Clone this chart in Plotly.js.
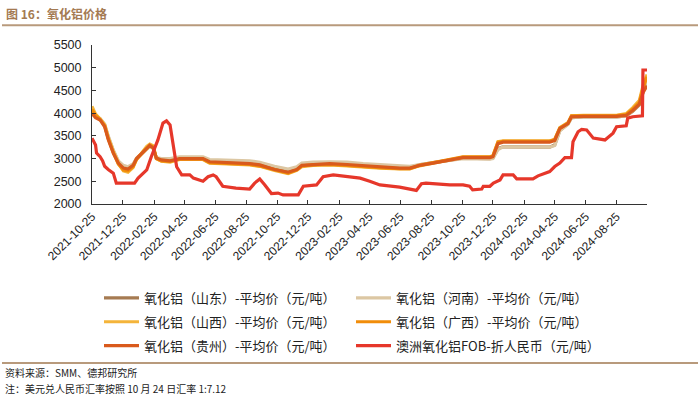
<!DOCTYPE html>
<html><head><meta charset="utf-8">
<script src="https://cdn.plot.ly/plotly-3.0.1.min.js"></script>
<style>html,body{margin:0;padding:0;background:#fff}</style>
</head><body><div id="chart" style="width:700px;height:398px"></div>
<script>
// ---------- data ----------
const groupDates = ["2021-10-25","2021-11-01","2021-11-10","2021-11-19","2021-11-26","2021-12-06","2021-12-16","2021-12-26","2022-01-04","2022-01-14","2022-01-21","2022-01-31","2022-02-10","2022-02-16","2022-02-23","2022-03-01","2022-03-11","2022-03-28","2022-04-16","2022-06-01","2022-06-14","2022-09-01","2022-09-21","2022-10-20","2022-11-16","2022-12-03","2022-12-13","2023-01-04","2023-02-06","2023-03-12","2023-04-13","2023-05-16","2023-06-24","2023-07-14","2023-08-02","2023-08-29","2023-10-01","2023-10-27","2023-12-19","2023-12-25","2024-01-04","2024-01-14","2024-04-15","2024-04-25","2024-05-05","2024-05-21","2024-05-28","2024-06-20","2024-08-25","2024-09-13","2024-09-26","2024-10-09","2024-10-16","2024-10-24"];
const shandong = [4050,3930,3870,3740,3480,3170,2930,2820,2800,2860,3000,3100,3220,3280,3220,3010,2980,2970,3010,3010,2950,2920,2880,2790,2720,2780,2860,2890,2900,2890,2860,2840,2800,2800,2860,2910,2960,3010,3000,3010,3220,3260,3250,3300,3620,3760,3900,3920,3920,3940,4040,4180,4450,4700];
const henan    = [4050,3940,3880,3760,3500,3190,2950,2850,2820,2880,3010,3110,3220,3270,3220,3020,3000,3000,3040,3040,2980,2950,2920,2830,2770,2820,2900,2920,2930,2920,2890,2870,2840,2830,2870,2910,2960,3000,2990,3000,3200,3260,3250,3290,3610,3750,3900,3920,3920,3940,4050,4200,4480,4750];
const shanxi   = [4150,3980,3870,3740,3460,3150,2900,2730,2700,2800,2980,3120,3270,3320,3280,3000,2940,2920,2980,2980,2900,2860,2830,2740,2670,2740,2820,2850,2860,2840,2810,2790,2770,2770,2840,2900,2970,3030,3030,3060,3370,3390,3390,3420,3680,3790,3940,3950,3950,3990,4120,4280,4600,4850];
const guangxi  = [4080,3950,3860,3720,3440,3130,2880,2750,2730,2820,2990,3110,3240,3290,3250,3000,2950,2940,2990,2990,2910,2870,2840,2750,2680,2750,2840,2860,2870,2850,2820,2800,2780,2780,2850,2910,2970,3040,3040,3060,3360,3380,3380,3420,3670,3780,3940,3945,3945,3970,4090,4240,4550,4800];
const guizhou  = [3990,3900,3850,3700,3420,3120,2900,2790,2770,2850,3000,3110,3230,3290,3230,3010,2970,2950,3000,3000,2930,2890,2860,2760,2700,2760,2850,2870,2890,2870,2840,2820,2790,2790,2850,2900,2960,3020,3020,3040,3330,3360,3360,3400,3660,3770,3920,3930,3930,3950,4060,4200,4450,4600];

const ausDates = ["2021-10-25","2021-11-01","2021-11-03","2021-11-10","2021-11-15","2021-11-19","2021-11-26","2021-12-06","2021-12-12","2022-01-17","2022-01-24","2022-02-10","2022-02-19","2022-03-04","2022-03-14","2022-03-21","2022-03-28","2022-04-03","2022-04-10","2022-04-20","2022-05-06","2022-05-13","2022-06-01","2022-06-11","2022-06-21","2022-06-27","2022-07-10","2022-08-05","2022-09-01","2022-09-11","2022-09-21","2022-10-01","2022-10-14","2022-10-27","2022-11-06","2022-12-06","2022-12-16","2023-01-11","2023-01-24","2023-02-13","2023-03-12","2023-04-07","2023-04-26","2023-05-16","2023-06-24","2023-07-27","2023-08-06","2023-08-15","2023-10-01","2023-10-27","2023-11-09","2023-11-15","2023-12-03","2023-12-06","2023-12-19","2023-12-26","2024-01-08","2024-01-14","2024-02-03","2024-02-10","2024-03-13","2024-03-23","2024-04-15","2024-04-25","2024-05-05","2024-05-15","2024-05-28","2024-05-31","2024-06-10","2024-06-17","2024-06-27","2024-07-10","2024-08-02","2024-08-18","2024-08-25","2024-09-13","2024-09-16","2024-09-26","2024-10-15","2024-10-16","2024-10-24"];
const australia = [3450,3300,3120,3040,2950,2830,2760,2680,2460,2460,2570,2750,3040,3410,3780,3830,3740,3260,2820,2640,2640,2570,2500,2600,2640,2600,2390,2350,2330,2460,2550,2420,2230,2240,2200,2200,2390,2420,2600,2640,2600,2570,2500,2420,2370,2300,2445,2460,2420,2420,2390,2310,2330,2390,2390,2460,2530,2640,2640,2555,2555,2620,2715,2825,2900,3020,3020,3370,3590,3640,3630,3450,3410,3560,3700,3720,3890,3920,3940,4950,4950];

const tickDates = ["2021-10-25","2021-12-25","2022-02-25","2022-04-25","2022-06-25","2022-08-25","2022-10-25","2022-12-25","2023-02-25","2023-04-25","2023-06-25","2023-08-25","2023-10-25","2023-12-25","2024-02-25","2024-04-25","2024-06-25","2024-08-25"];

const seriesNames = ["氧化铝（山东）-平均价（元/吨）","氧化铝（河南）-平均价（元/吨）","氧化铝（山西）-平均价（元/吨）","氧化铝（广西）-平均价（元/吨）","氧化铝（贵州）-平均价（元/吨）","澳洲氧化铝FOB-折人民币（元/吨）"];
const seriesColors = ["#a67b52","#dcc7a3","#f4b43a","#f18d0a","#d95a1c","#e6372a"];

// ---------- layout helpers (plot area: x 92..647, y 44.7..204.3) ----------
const PX0 = 92, PW = 555, PY1 = 204.3, PH = 159.6;
const px = x => (x - PX0) / PW;
const py = y => (PY1 - y) / PH;

const cjk = "Noto Sans CJK SC, Liberation Sans, sans-serif";
const lat = "Liberation Sans, Arial, Noto Sans CJK SC, sans-serif";

const series = [
  {x: groupDates, y: shandong, legend: "legend"},
  {x: groupDates, y: henan, legend: "legend2"},
  {x: groupDates, y: shanxi, legend: "legend"},
  {x: groupDates, y: guangxi, legend: "legend2"},
  {x: groupDates, y: guizhou, legend: "legend"},
  {x: ausDates, y: australia, legend: "legend2"}
];
const traces = series.map((s, i) => ({
  type: "scatter", mode: "lines", x: s.x, y: s.y, name: seriesNames[i],
  legend: s.legend, legendgroup: "g" + i,
  line: {color: seriesColors[i], width: 3.2}
}));

const legendCommon = {
  orientation: "v", traceorder: "grouped", tracegroupgap: 4,
  bgcolor: "rgba(0,0,0,0)", borderwidth: 0,
  font: {family: cjk, size: 13, color: "#222"},
  xanchor: "left", yanchor: "top", itemwidth: 35
};

const layout = {
  width: 700, height: 398,
  margin: {l: PX0, r: 700 - PX0 - PW, t: PY1 - PH, b: 398 - PY1},
  paper_bgcolor: "#fff", plot_bgcolor: "#fff",
  showlegend: true,
  legend: Object.assign({}, legendCommon, {x: px(99), y: py(283.5)}),
  legend2: Object.assign({}, legendCommon, {x: px(351), y: py(283.5)}),
  xaxis: {
    type: "date", range: ["2021-10-25", "2024-10-24"],
    tickmode: "array", tickvals: tickDates, ticktext: tickDates,
    tickangle: -45, ticks: "inside", ticklen: 4, tickcolor: "#333",
    showline: true, linecolor: "#333", linewidth: 1,
    showgrid: false, zeroline: false,
    tickfont: {family: lat, size: 12, color: "#222"}
  },
  yaxis: {
    range: [2000, 5500], dtick: 500, tick0: 2000,
    ticks: "inside", ticklen: 4, tickcolor: "#333",
    showline: true, linecolor: "#333", linewidth: 1,
    showgrid: false, zeroline: false, ticklabelstandoff: 7,
    tickfont: {family: lat, size: 12.5, color: "#222"}
  },
  shapes: [
    {type: "line", xref: "paper", yref: "paper", x0: px(2), x1: px(698), y0: py(25), y1: py(25), line: {color: "#b89a7c", width: 2}},
    {type: "line", xref: "paper", yref: "paper", x0: px(2), x1: px(698), y0: py(364), y1: py(364), line: {color: "#b89a7c", width: 2}}
  ],
  annotations: [
    {text: "<b>图 16：氧化铝价格</b>", xref: "paper", yref: "paper", x: px(4), y: py(13), xanchor: "left", yanchor: "middle", showarrow: false, font: {family: cjk, size: 12, color: "#a47a52"}},
    {text: "资料来源：SMM、德邦研究所", xref: "paper", yref: "paper", x: px(3), y: py(373.5), xanchor: "left", yanchor: "middle", showarrow: false, font: {family: cjk, size: 10, color: "#222"}},
    {text: "注：美元兑人民币汇率按照 10 月 24 日汇率 1:7.12", xref: "paper", yref: "paper", x: px(3), y: py(389), xanchor: "left", yanchor: "middle", showarrow: false, font: {family: cjk, size: 10, color: "#222"}}
  ]
};

Plotly.newPlot("chart", traces, layout, {displayModeBar: false, staticPlot: true});
</script>
</body></html>
